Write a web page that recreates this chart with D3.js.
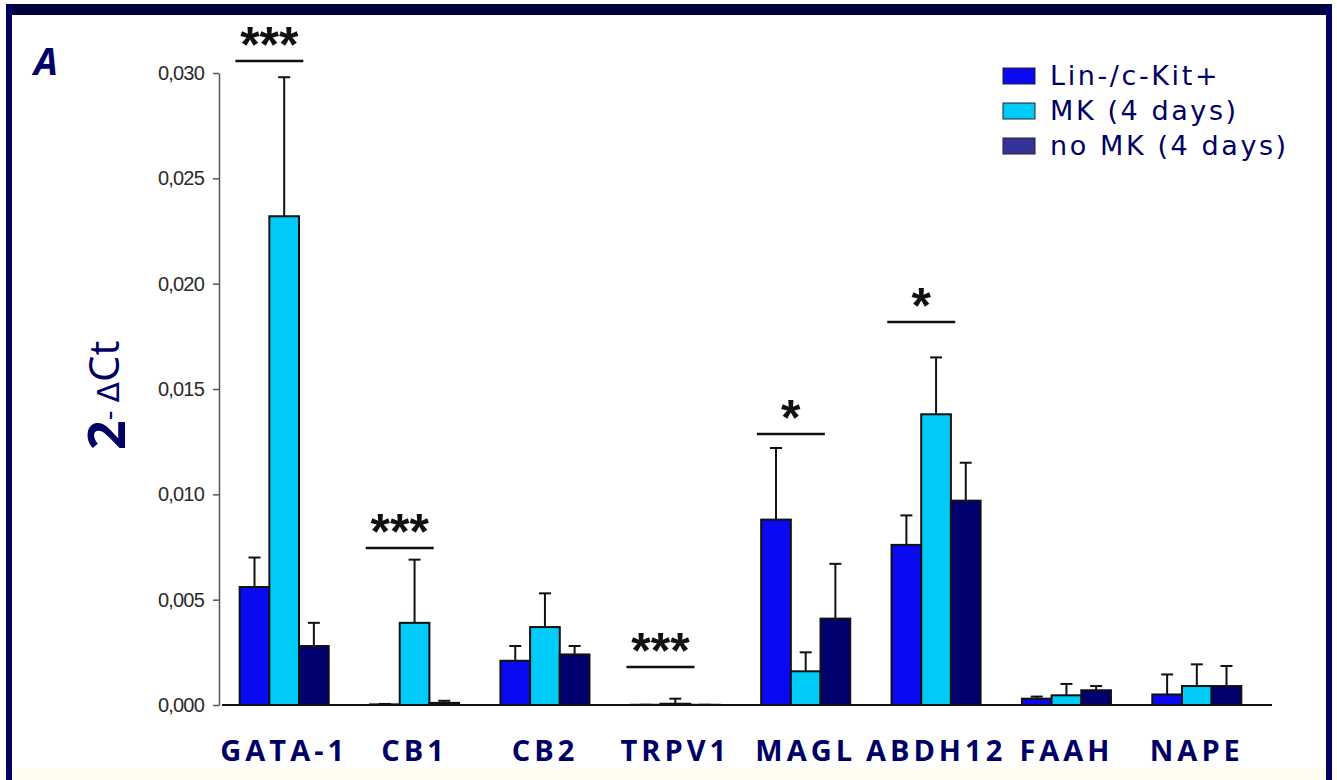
<!DOCTYPE html>
<html>
<head>
<meta charset="utf-8">
<script src="https://cdn.jsdelivr.net/npm/d3@7"></script>
<style>
  html, body { margin: 0; padding: 0; background: #ffffff; }
  svg { display: block; }
</style>
</head>
<body>
<script>
// ---- data ----
const categories = ["GATA-1", "CB1", "CB2", "TRPV1", "MAGL", "ABDH12", "FAAH", "NAPE"];
const seriesNames = ["Lin-/c-Kit+", "MK (4 days)", "no MK (4 days)"];

// mean 2^-ΔCt per category
const linKitMean = [0.0056, 0.00003, 0.0021, 0.00001, 0.0088, 0.0076, 0.0003, 0.0005];
const mkMean     = [0.0232, 0.0039, 0.0037, 0.00006, 0.0016, 0.0138, 0.00046, 0.0009];
const noMkMean   = [0.0028, 0.0001, 0.0024, 0.00001, 0.0041, 0.0097, 0.0007, 0.0009];

// upper end of the error bar (mean + SEM)
const linKitUpper = [0.0070, 0.00005, 0.0028, 0.00001, 0.0122, 0.0090, 0.0004, 0.00145];
const mkUpper     = [0.0298, 0.0069, 0.0053, 0.0003, 0.0025, 0.0165, 0.0010, 0.00193];
const noMkUpper   = [0.0039, 0.0002, 0.0028, 0.00001, 0.0067, 0.0115, 0.0009, 0.00185];

// significance brackets
const sigCategories = ["GATA-1", "CB1", "TRPV1", "MAGL", "ABDH12"];
const sigLabels     = ["***", "***", "***", "*", "*"];
const sigLevels     = [0.03057, 0.00745, 0.0018, 0.01286, 0.01818];

const yTicks = [0, 0.005, 0.010, 0.015, 0.020, 0.025, 0.030];

// ---- styles ----
const fills = ["#0a0af2", "#00cbf8", "#00006e"];
const legendFills = ["#0a0af2", "#00cbf8", "#333399"];
const navy = "#000066";
const labelFont = "'Open Sans', 'DejaVu Sans', sans-serif";

const W = 1337, H = 780;
const svg = d3.select("body").append("svg").attr("width", W).attr("height", H);

// background and frame
svg.append("rect").attr("width", W).attr("height", H).attr("fill", "#ffffff");
svg.append("rect").attr("x", 0).attr("y", 768).attr("width", W).attr("height", 12).attr("fill", "#fefcf1");
svg.append("rect").attr("x", 6).attr("y", 4).attr("width", 1326).attr("height", 11).attr("fill", "#00003f");
svg.append("rect").attr("x", 6).attr("y", 4).attr("width", 6).attr("height", 776).attr("fill", "#000060");
svg.append("rect").attr("x", 1326).attr("y", 4).attr("width", 6).attr("height", 776).attr("fill", "#000060");

// ---- scales ----
const y = d3.scaleLinear().domain([0, 0.030]).range([705, 73]);
const x = d3.scaleBand().domain(categories).range([219, 1262]).paddingInner(0.317).paddingOuter(0.1585);
const xs = d3.scaleBand().domain(seriesNames).range([0, x.bandwidth()]);

// ---- y axis ----
const yAxis = d3.axisLeft(y)
  .tickValues(yTicks)
  .tickSizeOuter(0)
  .tickSizeInner(6)
  .tickPadding(9)
  .tickFormat(d => d3.format(".3f")(d).replace(".", ","));

const gy = svg.append("g").attr("transform", "translate(219,0)").call(yAxis);
gy.select(".domain").attr("stroke", "#555").attr("stroke-width", 1.5);
gy.selectAll(".tick line").attr("stroke", "#555").attr("stroke-width", 1.5);
gy.selectAll(".tick text")
  .attr("fill", "#2a2a2a")
  .style("font-family", "'Liberation Sans Narrow', 'Liberation Sans', sans-serif")
  .style("font-size", "20px")
  .style("letter-spacing", "-0.8px");

// ---- x axis baseline and category labels ----
const xAxis = d3.axisBottom(x).tickSize(0).tickPadding(35);
const gx = svg.append("g").attr("transform", `translate(0,${y(0)})`).call(xAxis);
gx.select(".domain").attr("d", "M222,0H1272").attr("stroke", "#111").attr("stroke-width", 2);
gx.selectAll(".tick text")
  .attr("fill", navy)
  .style("font-family", labelFont)
  .style("font-weight", "700")
  .style("font-size", "29px")
  .style("letter-spacing", "4px");

// ---- bars ----
const means = [linKitMean, mkMean, noMkMean];
const uppers = [linKitUpper, mkUpper, noMkUpper];
const rows = [];
seriesNames.forEach((s, si) => {
  categories.forEach((c, ci) => {
    rows.push({ cat: c, series: s, si, mean: means[si][ci], upper: uppers[si][ci] });
  });
});

const bx = d => x(d.cat) + xs(d.series);

// error bars (drawn under the bars so the bar outline covers the stem base)
const err = svg.append("g").attr("stroke", "#111").attr("stroke-width", 2).attr("fill", "none");
err.selectAll("line.stem").data(rows).join("line")
  .attr("class", "stem")
  .attr("x1", d => bx(d) + xs.bandwidth() / 2).attr("x2", d => bx(d) + xs.bandwidth() / 2)
  .attr("y1", d => y(d.mean)).attr("y2", d => y(d.upper));
err.selectAll("line.cap").data(rows).join("line")
  .attr("class", "cap")
  .attr("x1", d => bx(d) + xs.bandwidth() / 2 - 6).attr("x2", d => bx(d) + xs.bandwidth() / 2 + 6)
  .attr("y1", d => y(d.upper)).attr("y2", d => y(d.upper));

svg.append("g").selectAll("rect").data(rows).join("rect")
  .attr("x", d => bx(d))
  .attr("y", d => y(d.mean))
  .attr("width", xs.bandwidth())
  .attr("height", d => y(0) - y(d.mean))
  .attr("fill", d => fills[d.si])
  .attr("stroke", "#111")
  .attr("stroke-width", 2);

// ---- significance markers ----
const sig = svg.append("g");
sigCategories.forEach((c, i) => {
  const cx = x(c) + xs.bandwidth();   // midway between first and second bar
  const yy = y(sigLevels[i]);
  sig.append("line")
    .attr("x1", cx - 34).attr("x2", cx + 34)
    .attr("y1", yy).attr("y2", yy)
    .attr("stroke", "#111").attr("stroke-width", 2.5);
  sig.append("text")
    .attr("x", cx).attr("y", yy + 1)
    .attr("text-anchor", "middle")
    .attr("fill", "#111")
    .style("font-family", "'Liberation Sans', Arial, sans-serif")
    .style("font-weight", "bold")
    .style("font-size", "50px")
    .style("letter-spacing", "0px")
    .text(sigLabels[i]);
});

// ---- legend ----
const legend = svg.append("g").attr("transform", "translate(1003,68)");
seriesNames.forEach((s, i) => {
  const g = legend.append("g").attr("transform", `translate(0,${i * 35})`);
  g.append("rect").attr("width", 32).attr("height", 16)
    .attr("fill", legendFills[i]).attr("stroke", "#222").attr("stroke-width", 1);
  g.append("text").attr("x", 47).attr("y", 17)
    .attr("fill", navy)
    .style("font-family", "'DejaVu Sans', sans-serif")
    .style("font-size", "27px")
    .style("letter-spacing", "2.6px")
    .text(s);
});

// ---- panel letter ----
svg.append("text").attr("x", 34).attr("y", 75)
  .attr("fill", navy)
  .style("font-family", labelFont)
  .style("font-weight", "700")
  .style("font-style", "italic")
  .style("font-size", "38px")
  .text("A");

// ---- y axis title: 2^-ΔCt ----
const yt = svg.append("text")
  .attr("transform", "translate(125,450) rotate(-90)")
  .attr("fill", navy)
  .style("font-family", labelFont);
yt.append("tspan").style("font-weight", "700").style("font-size", "52px").text("2");
yt.append("tspan").style("font-size", "30px").attr("dy", -6).text("-");
yt.append("tspan").style("font-family", "'DejaVu Sans', sans-serif").style("font-size", "30px").attr("dx", 8).text("Δ");
yt.append("tspan").style("font-size", "42px").text("Ct");
</script>
</body>
</html>
